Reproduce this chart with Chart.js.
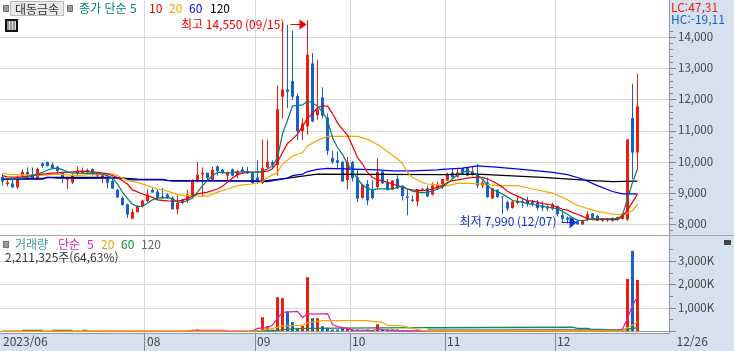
<!DOCTYPE html>
<html lang="ko">
<head>
<meta charset="utf-8">
<script src="https://cdn.jsdelivr.net/npm/chart.js@4"></script>
<style>
html, body { margin: 0; padding: 0; }
body { width: 734px; height: 351px; background: #d6e1f0; overflow: hidden; position: relative; font: 12px "Noto Sans CJK KR", sans-serif; }
canvas { position: absolute; left: 0; }
#priceChart { top: 0; }
#volumeChart { top: 236px; }
.sep { position: absolute; left: 0; top: 235px; width: 734px; height: 1px; background: #a8a8a8; }
.t { position: absolute; white-space: nowrap; line-height: 14px; }
.sq { position: absolute; width: 4px; height: 5px; background: #9a9a9a; border: 1px solid #777; }
#name { position: absolute; left: 10px; top: 1px; width: 52px; height: 13px; line-height: 13px; background: #e8e8e8; border: 1px solid #bbb; text-align: center; color: #333; }
#grid { position: absolute; left: 5px; top: 19px; width: 9px; height: 9px; border: 2px solid #111; background: repeating-linear-gradient(90deg, #999 0 2px, #ddd 2px 3px); }
#closeBox { position: absolute; left: 724px; top: 240px; width: 7px; height: 5px; background: #444; }
</style>
</head>
<body>
<canvas id="priceChart" width="734" height="235"></canvas>
<canvas id="volumeChart" width="734" height="115"></canvas>
<div class="sep"></div>

<div class="sq" style="left:3px;top:5px"></div>
<div id="name">대동금속</div>
<div class="sq" style="left:67px;top:5px"></div>
<span class="t" style="left:79px;top:1px;color:#00807a">종가 단순 5</span>
<span class="t" style="left:149px;top:1px;color:#f00000">10</span>
<span class="t" style="left:169px;top:1px;color:#e8a800">20</span>
<span class="t" style="left:189px;top:1px;color:#0000f0">60</span>
<span class="t" style="left:210px;top:1px;color:#000">120</span>
<div id="grid"></div>
<span class="t" style="left:671px;top:0;color:#ee1c0e">LC:47,31</span>
<span class="t" style="left:671px;top:12px;color:#1560cc">HC:-19,11</span>

<div class="sq" style="left:3px;top:241px"></div>
<span class="t" style="left:15px;top:237px;color:#3a9c9c">거래량</span>
<span class="t" style="left:58px;top:237px;color:#e020b0">단순</span>
<span class="t" style="left:87px;top:237px;color:#e020b0">5</span>
<span class="t" style="left:101px;top:237px;color:#e8a800">20</span>
<span class="t" style="left:121px;top:237px;color:#109040">60</span>
<span class="t" style="left:141px;top:237px;color:#666">120</span>
<span class="t" style="left:5px;top:250px;color:#333">2,211,325주(64,63%)</span>
<div id="closeBox"></div>

<script>
// day 0 = first candle, one candle every 5px
const monthDays = [-0.3, 28.5, 50.5, 69.5, 88.5, 110.5, 134.4]
const monthLabels = ["2023/06", "08", "09", "10", "11", "12", "12/26"]

const priceTicks = [7800, 8000, 8200, 8400, 8600, 8800, 9000, 9200, 9400, 9600, 9800, 10000, 10200, 10400, 10600, 10800, 11000, 11200, 11400, 11600, 11800, 12000, 12200, 12400, 12600, 12800, 13000, 13200, 13400, 13600, 13800, 14000, 14200]
const volumeTicks = [0, 500, 1000, 1500, 2000, 2500, 3000, 3500]

const opens = [9530,9300,9320,9200,9570,9690,9620,9490,9960,10000,9920,9850,9650,9440,9350,9620,9650,9750,9780,9570,9490,9480,9390,9120,8860,8650,8190,8400,8590,8750,9110,9060,8900,8960,8860,8490,8690,8770,8880,9390,9610,9660,9440,9860,9760,9570,9770,9590,9770,9720,9650,9510,9330,9830,10000,9910,12100,12330,12600,12120,11000,11150,13170,11510,12080,11430,10130,10060,10020,9430,10000,9510,8850,9300,9110,9200,9700,9350,9120,9460,9250,8900,8800,8740,9110,9160,8960,9140,9300,9410,9670,9530,9810,9810,9590,9620,9250,9350,8840,9120,8900,8720,8530,8690,8740,8770,8730,8690,8610,8580,8510,8600,8300,8220,8180,8110,8000,8140,8350,8280,8120,8140,8120,8240,8180,8160,11410,10310]
const highs = [9620,9460,9430,9570,9760,9840,9830,9830,10000,10020,10000,9880,9690,9470,9620,9850,9830,9800,9800,9670,9620,9570,9510,9140,8900,8670,8510,8610,8800,9120,9160,9140,9170,9000,8900,8930,8830,9110,9450,10000,9830,9670,9850,9900,9780,9690,9800,9750,9850,9850,9680,10060,10730,10730,10060,12470,14460,14410,14220,12200,11400,14550,13500,13280,12400,11560,10360,10340,10020,10170,10040,9780,9280,9430,9430,10130,9720,9460,9430,9570,9250,9140,8930,9140,9170,9250,9350,9380,9460,9660,9780,9810,9810,9830,9850,9940,9410,9510,9170,9120,8900,8770,8790,8880,8850,8900,8790,8790,8750,8610,8700,8600,8480,8260,8220,8140,8160,8430,8370,8300,8210,8220,8220,8260,8350,10730,12520,12840]
const lows = [9250,9230,9190,9140,9490,9570,9460,9430,9820,9860,9770,9620,9340,9140,9300,9570,9620,9600,9570,9490,9330,9160,9140,8860,8600,8210,8170,8380,8540,8720,9030,8790,8830,8830,8480,8330,8650,8690,8860,9350,8900,9410,9410,9570,9620,9410,9550,9490,9640,9620,9300,9300,9300,9810,9830,9570,11400,11740,12000,10700,10710,10870,11290,11350,11400,10230,9940,9810,9380,9120,9380,8720,8830,8630,8800,9160,9300,9090,9110,9140,8770,8300,8720,8580,9090,8880,8930,9110,9140,9390,9490,9510,9600,9550,9570,9170,9170,8860,8830,8860,8330,8430,8510,8650,8540,8580,8580,8460,8430,8430,8460,8260,8060,8030,8050,7990,8000,8120,8190,8110,8090,8090,8100,8120,8160,8120,9460,9780]
const closes = [9380,9350,9190,9530,9690,9590,9490,9780,9880,9880,9810,9720,9490,9470,9570,9690,9720,9670,9620,9620,9580,9340,9150,8870,8630,8320,8400,8590,8770,8960,9030,8850,8850,8850,8490,8690,8790,8960,9430,9600,9660,9490,9750,9720,9660,9690,9570,9720,9690,9640,9330,9410,9810,10010,9900,11700,12330,12260,12100,11000,11240,13440,11300,11690,11490,10360,10010,9980,9380,10000,9490,8830,9280,8770,8850,9690,9320,9110,9410,9160,8910,8860,8760,9140,9140,8900,9250,9270,9460,9620,9510,9670,9620,9570,9700,9250,9350,8880,9170,8880,8880,8510,8740,8760,8690,8650,8670,8530,8540,8510,8650,8330,8190,8160,8080,8010,8140,8330,8220,8120,8200,8200,8220,8160,8350,10730,10310,11790]

// volume, in thousand shares
const volumes = [22,18,25,30,20,28,34,26,22,18,24,30,26,20,24,28,22,26,30,20,18,26,30,34,28,30,26,22,20,24,28,22,18,20,30,26,22,30,70,85,30,26,24,22,28,26,24,22,26,28,30,55,610,230,85,1470,1430,870,400,140,240,2330,570,570,230,160,85,85,140,160,85,85,70,85,60,310,85,70,85,85,50,45,40,50,45,40,45,40,50,45,40,50,45,40,45,50,40,45,40,35,40,45,35,40,45,35,40,35,30,40,35,30,40,35,30,35,40,35,30,35,40,30,35,30,110,2250,3460,2211]

// moving averages, a vertex at each listed day
const ma5Days = [0,2,5,7,8,9,10,11,12,13,14,15,18,20,21,22,23,24,25,26,27,28,29,30,31,33,34,35,36,37,38,39,40,41,42,43,44,45,46,47,48,50,51,52,53,54,55,56,57,58,59,60,61,62,63,64,65,66,67,68,69,70,71,72,73,74,75,78,79,80,81,82,83,84,85,86,87,88,89,90,91,92,93,94,95,96,97,98,99,100,101,102,103,104,105,106,107,108,109,110,111,112,113,114,115,116,117,118,119,120,121,122,123,124,125,126,127]
const ma5 = [9490,9460,9510,9620,9670,9750,9790,9810,9760,9690,9650,9650,9640,9620,9570,9490,9300,9040,8830,8650,8580,8580,8690,8790,8850,8860,8830,8720,8720,8770,8850,9040,9250,9410,9570,9670,9670,9640,9670,9670,9700,9670,9670,9720,9780,9880,10150,10910,11345,11800,11830,11830,11970,11900,11800,11610,11350,10780,10470,10250,9940,9720,9460,9270,9160,9110,9140,9140,9200,9230,9140,9070,9040,9020,9040,9070,9140,9200,9320,9460,9600,9670,9720,9670,9590,9460,9250,9110,9060,8980,8880,8770,8740,8720,8670,8650,8610,8580,8560,8530,8510,8420,8330,8220,8140,8120,8160,8190,8190,8180,8180,8190,8190,8300,8830,9350,9780]
const ma10Days = [0,1,3,6,8,10,14,16,19,21,23,25,26,28,30,31,33,35,37,38,39,41,43,44,45,46,47,48,49,52,53,54,55,56,57,58,59,60,61,62,63,64,65,66,67,68,69,70,71,72,73,74,75,76,77,78,79,80,81,82,83,84,85,86,87,88,89,90,91,92,93,94,95,96,97,98,99,100,101,102,103,104,105,106,107,108,109,110,111,112,113,114,115,116,117,118,119,120,121,122,123,124,125,126,127]
const ma10 = [9570,9530,9510,9570,9620,9650,9690,9710,9670,9630,9510,9300,9110,8980,8870,8790,8760,8750,8820,8920,8980,9040,9140,9230,9360,9490,9600,9650,9670,9690,9710,9790,10000,10310,10600,10740,10900,11150,11400,11560,11750,11810,11800,11560,11260,11050,10870,10520,10150,9940,9670,9510,9430,9410,9350,9300,9250,9200,9140,9110,9090,9090,9110,9140,9200,9250,9350,9410,9430,9460,9490,9510,9510,9510,9460,9390,9300,9200,9070,8980,8910,8830,8770,8750,8720,8670,8650,8610,8560,8490,8460,8380,8330,8260,8190,8160,8160,8170,8160,8160,8160,8260,8460,8720,8980]
const ma20Days = [0,1,3,5,7,9,11,13,15,17,19,22,23,25,27,29,31,33,35,37,39,41,43,45,47,48,50,52,53,55,56,58,60,61,63,65,67,71,73,75,77,79,80,81,82,84,85,87,88,89,91,94,96,99,103,106,110,113,115,119,122,124,125,126,127]
const ma20 = [9650,9620,9600,9590,9570,9590,9620,9590,9570,9600,9620,9620,9570,9410,9350,9250,9140,9070,8960,8930,8910,8910,9040,9140,9250,9270,9300,9380,9510,9670,9940,10200,10310,10520,10700,10830,10830,10830,10730,10570,10340,10100,9960,9670,9510,9350,9300,9270,9250,9250,9320,9320,9300,9250,9250,9140,9010,8790,8610,8420,8330,8310,8370,8450,8650]
const ma60Days = [0,4,5,8,9,11,16,21,24,25,26,32,34,37,38,46,50,53,55,57,58,60,61,63,65,75,78,82,87,88,92,95,98,101,105,110,113,116,119,122,124,127]
const ma60 = [9460,9460,9480,9480,9510,9490,9480,9490,9490,9460,9430,9430,9390,9390,9410,9410,9390,9380,9430,9490,9570,9620,9700,9770,9800,9750,9720,9720,9750,9770,9810,9880,9850,9810,9750,9670,9600,9460,9250,9060,8980,8980]
const ma120Days = [0,8,9,22,24,27,32,33,38,52,55,57,60,63,88,95,101,108,115,118,122,127]
const ma120 = [9460,9460,9510,9510,9490,9460,9450,9420,9400,9390,9450,9490,9550,9620,9600,9620,9570,9510,9440,9410,9380,9390]

const volMa5Days = [0,37,38,44,45,50,51,53,54,55,56,59,60,61,62,65,66,67,69,70,74,75,80,119,123,124,125,126,127]
const volMa5 = [15,15,50,50,15,30,130,170,270,560,820,860,600,770,740,770,300,210,130,60,50,90,30,50,30,100,570,1130,1490]
const volMa20Days = [0,51,54,56,60,61,64,73,74,76,77,80,82,84,119,123,124,125,126,127]
const volMa20 = [10,30,130,240,260,370,470,470,430,390,260,240,130,40,40,30,40,170,270,415]
const volMa60Days = [4,8,9,10,14,15,16,17,18,50,54,57,61,75,97,114,115,117,118,120,121,124,127]
const volMa60 = [50,50,null,50,50,null,50,50,null,25,30,100,130,160,175,185,130,130,86,86,60,60,170]
const volMa120Days = [85,124,125,126,127]
const volMa120 = [100,85,110,130,150]

const highDay = 61
const highText = "최고 14,550 (09/15)"
const lowDay = 115
const lowText = "최저 7,990 (12/07)"

const RED = "#ee1c0e"
const BLUE = "#1560cc"
const GRID = "#d8d8d8"
const AXIS = "#999999"
const FONT = '"Noto Sans CJK KR", sans-serif'

const days = opens.map((v, i) => i)
const candleColors = days.map(i => closes[i] >= opens[i] ? RED : BLUE)
const pts = (xs, ys) => xs.map((x, i) => ({ x: x, y: ys[i] }))
const barBase = { type: "bar", backgroundColor: candleColors, inflateAmount: 0, grouped: false, borderWidth: 0 }
const lineOf = (xs, ys, color) => ({ type: "line", data: pts(xs, ys), borderColor: color, borderWidth: 1.25, pointRadius: 0, tension: 0, order: 1 })
const noPadding = s => { s.paddingLeft = 0; s.paddingRight = 0; s.paddingTop = 0; s.paddingBottom = 0 }

// white plot area, short marks on the right axis
const panelPlugin = {
    id: "panel",
    beforeDraw(chart) {
        const a = chart.chartArea
        chart.ctx.fillStyle = "#fff"
        chart.ctx.fillRect(a.left, a.top, a.right - a.left, a.bottom - a.top)
    },
    afterDraw(chart) {
        const y = chart.scales.y, ctx = chart.ctx
        const major = chart.options.majorStep
        ctx.strokeStyle = "#888"
        ctx.lineWidth = 1
        y.ticks.forEach(t => {
            const py = Math.floor(y.getPixelForValue(t.value)) + 0.5
            ctx.beginPath()
            ctx.moveTo(y.left, py)
            ctx.lineTo(y.left + (t.value % major === 0 ? 7 : 4), py)
            ctx.stroke()
        })
    }
}

// highest and lowest price notes with their arrows
const notesPlugin = {
    id: "notes",
    afterDatasetsDraw(chart) {
        const ctx = chart.ctx, x = chart.scales.x
        ctx.save()
        ctx.font = "12px " + FONT
        ctx.textBaseline = "middle"
        ctx.textAlign = "right"
        const hx = x.getPixelForValue(highDay) - 1
        ctx.fillStyle = "#f00000"
        ctx.strokeStyle = "#f00000"
        ctx.fillText(highText, hx - 22, 24)
        ctx.beginPath(); ctx.moveTo(hx - 16, 24.5); ctx.lineTo(hx - 4, 24.5); ctx.stroke()
        ctx.beginPath(); ctx.moveTo(hx, 24.5); ctx.lineTo(hx - 7, 19.5); ctx.lineTo(hx - 7, 29.5); ctx.fill()
        const lx = x.getPixelForValue(lowDay) - 1
        ctx.fillStyle = "#1030d0"
        ctx.strokeStyle = "#1030d0"
        ctx.fillText(lowText, lx - 20, 221)
        ctx.beginPath(); ctx.moveTo(lx - 15, 222.5); ctx.lineTo(lx - 4, 222.5); ctx.stroke()
        ctx.beginPath(); ctx.moveTo(lx, 222.5); ctx.lineTo(lx - 7, 216.5); ctx.lineTo(lx - 7, 228.5); ctx.fill()
        ctx.restore()
    }
}

const xAxis = (withLabels) => ({
    type: "linear",
    min: -0.5,
    max: 133.3,
    offset: false,
    afterBuildTicks: s => { s.ticks = monthDays.map(v => ({ value: v })) },
    afterFit: s => { s.height = withLabels ? 18 : 0; noPadding(s) },
    border: { display: withLabels, color: AXIS },
    grid: {
        offset: false,
        color: c => c.tick && c.tick.value > 0 && c.tick.value < 133 ? GRID : "transparent",
        tickColor: c => c.tick && c.tick.value > 0 && c.tick.value < 133 ? "#888" : "transparent",
        drawTicks: withLabels,
        tickLength: 18
    },
    ticks: {
        display: withLabels,
        autoSkip: false,
        maxRotation: 0,
        align: "start",
        labelOffset: 2,
        padding: -17,
        color: "#444",
        font: { family: FONT, size: 12 },
        callback: v => monthLabels[monthDays.indexOf(v)]
    }
})

const yAxis = (min, max, tickList, format, gridColor) => ({
    position: "right",
    min: min,
    max: max,
    afterBuildTicks: s => { s.ticks = tickList.map(v => ({ value: v })) },
    afterFit: s => { s.width = 65; noPadding(s) },
    border: { color: AXIS },
    grid: { color: gridColor, drawTicks: false },
    ticks: { autoSkip: false, padding: 9, labelOffset: -1, color: "#444", font: { family: FONT, size: 11.5 }, callback: format }
})

var priceChart = new Chart(document.getElementById("priceChart"), {
    type: "bar",
    plugins: [panelPlugin, notesPlugin],
    data: {
        datasets: [
            lineOf(ma5Days, ma5, "#00807a"),
            lineOf(ma10Days, ma10, "#f00000"),
            lineOf(ma20Days, ma20, "#f0aa00"),
            lineOf(ma60Days, ma60, "#0000f0"),
            lineOf(ma120Days, ma120, "#000000"),
            Object.assign({}, barBase, { data: pts(days, days.map(i => [opens[i], closes[i]])), barThickness: 3, order: 2 }),
            Object.assign({}, barBase, { data: pts(days, days.map(i => [lows[i], highs[i]])), barThickness: 1, order: 3 })
        ]
    },
    options: {
        responsive: false,
        animation: false,
        majorStep: 1000,
        layout: { padding: 0 },
        plugins: { legend: { display: false }, tooltip: { enabled: false } },
        scales: {
            x: xAxis(false),
            y: yAxis(7664, 15203, priceTicks,
                v => v % 1000 === 0 && v >= 8000 ? v.toLocaleString("en-US") : "",
                c => c.tick && c.tick.value % 1000 === 0 ? GRID : "transparent")
        }
    }
})

var volumeChart = new Chart(document.getElementById("volumeChart"), {
    type: "bar",
    plugins: [panelPlugin],
    data: {
        datasets: [
            lineOf(volMa5Days, volMa5, "#e020b0"),
            Object.assign(lineOf(volMa20Days, volMa20, "#f0aa00"), { order: 0.5 }),
            lineOf(volMa60Days, volMa60, "#109040"),
            lineOf(volMa120Days, volMa120, "#888888"),
            Object.assign({}, barBase, { data: pts(days, volumes), barThickness: 3, order: 2 })
        ]
    },
    options: {
        responsive: false,
        animation: false,
        majorStep: 1000,
        layout: { padding: 0 },
        plugins: { legend: { display: false }, tooltip: { enabled: false } },
        scales: {
            x: xAxis(true),
            y: yAxis(-64, 4093, volumeTicks,
                v => v % 1000 === 0 && v > 0 ? v.toLocaleString("en-US") + "K" : "",
                c => !c.tick ? "transparent" : c.tick.value === 0 ? AXIS : c.tick.value % 1000 === 0 ? GRID : "transparent")
        }
    }
})
</script>
</body>
</html>
